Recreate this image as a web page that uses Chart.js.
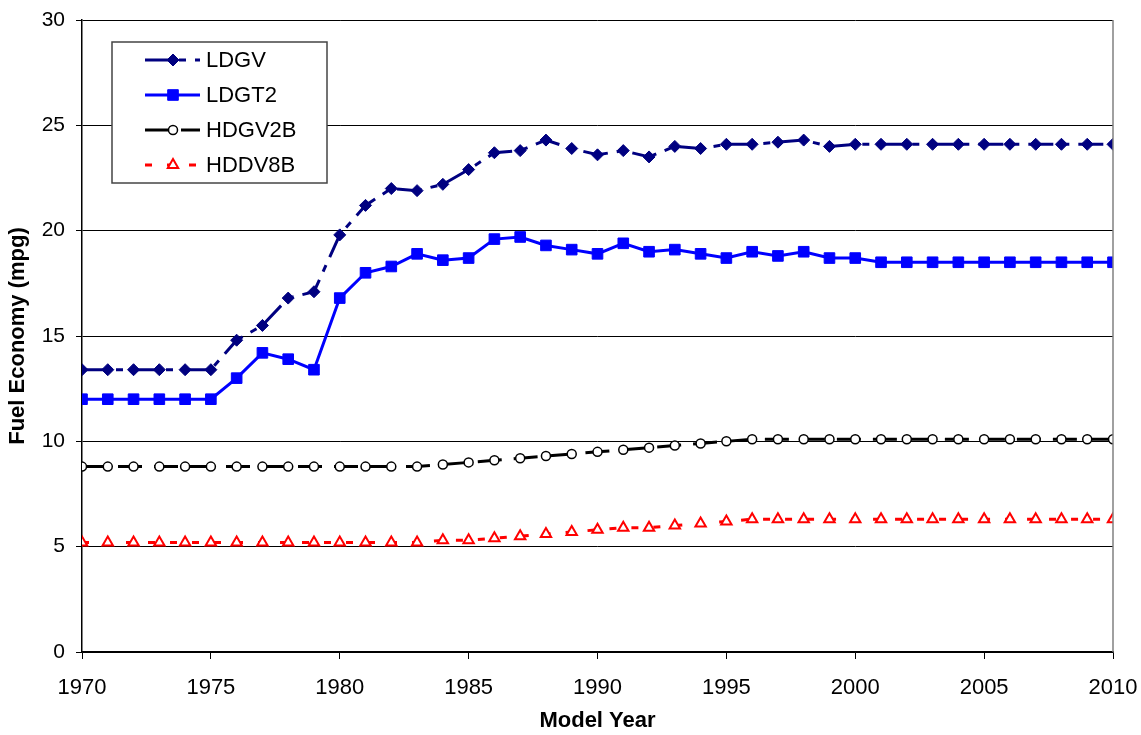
<!DOCTYPE html>
<html>
<head>
<meta charset="utf-8">
<title>Fuel Economy by Model Year</title>
<script src="https://cdn.jsdelivr.net/npm/chart.js@4.4.1/dist/chart.umd.min.js"></script>
<style>
  html, body { margin: 0; padding: 0; background: #fff; }
  #wrap { width: 1141px; height: 735px; }
</style>
</head>
<body>
<div id="wrap"><canvas id="fuelChart" width="1141" height="735"></canvas></div>
<script>
// model years on the x axis
var years = [1970,1971,1972,1973,1974,1975,1976,1977,1978,1979,
             1980,1981,1982,1983,1984,1985,1986,1987,1988,1989,
             1990,1991,1992,1993,1994,1995,1996,1997,1998,1999,
             2000,2001,2002,2003,2004,2005,2006,2007,2008,2009,2010];

// fuel economy (mpg) per vehicle class
var ldgv   = [13.4,13.4,13.4,13.4,13.4,13.4,14.8,15.5,16.8,17.1,
              19.8,21.2,22.0,21.9,22.2,22.9,23.7,23.8,24.3,23.9,
              23.6,23.8,23.5,24.0,23.9,24.1,24.1,24.2,24.3,24.0,
              24.1,24.1,24.1,24.1,24.1,24.1,24.1,24.1,24.1,24.1,24.1];
var ldgt2  = [12.0,12.0,12.0,12.0,12.0,12.0,13.0,14.2,13.9,13.4,
              16.8,18.0,18.3,18.9,18.6,18.7,19.6,19.7,19.3,19.1,
              18.9,19.4,19.0,19.1,18.9,18.7,19.0,18.8,19.0,18.7,
              18.7,18.5,18.5,18.5,18.5,18.5,18.5,18.5,18.5,18.5,18.5];
var hdgv2b = [8.8,8.8,8.8,8.8,8.8,8.8,8.8,8.8,8.8,8.8,
              8.8,8.8,8.8,8.8,8.9,9.0,9.1,9.2,9.3,9.4,
              9.5,9.6,9.7,9.8,9.9,10.0,10.1,10.1,10.1,10.1,
              10.1,10.1,10.1,10.1,10.1,10.1,10.1,10.1,10.1,10.1,10.1];
var hddv8b = [5.2,5.2,5.2,5.2,5.2,5.2,5.2,5.2,5.2,5.2,
              5.2,5.2,5.2,5.2,5.3,5.3,5.4,5.5,5.6,5.7,
              5.8,5.9,5.9,6.0,6.1,6.2,6.3,6.3,6.3,6.3,
              6.3,6.3,6.3,6.3,6.3,6.3,6.3,6.3,6.3,6.3,6.3];

var yTicks = [0,5,10,15,20,25,30];
var xTicks = [1970,1975,1980,1985,1990,1995,2000,2005,2010];

var FONT = "'Liberation Sans', Arial, sans-serif";

function toPoints(vals) {
    return years.map(function (yr, i) { return { x: yr, y: vals[i] }; });
}

// Leyenda dibujada dentro del area del grafico
var boxLegend = {
    id: 'boxLegend',
    afterDraw: function (chart) {
        var ctx = chart.ctx;
        var x0 = 112, y0 = 42, w = 215, h = 141;
        ctx.save();
        ctx.fillStyle = '#fff';
        ctx.fillRect(x0, y0, w, h);
        ctx.strokeStyle = '#444';
        ctx.lineWidth = 1.5;
        ctx.strokeRect(x0, y0, w, h);
        chart.data.datasets.forEach(function (ds, i) {
            var cy = y0 + 18 + i * 35;
            ctx.strokeStyle = ds.borderColor;
            ctx.lineWidth = ds.borderWidth;
            ctx.setLineDash(ds.borderDash || []);
            ctx.beginPath();
            ctx.moveTo(x0 + 33, cy);
            ctx.lineTo(x0 + 88, cy);
            ctx.stroke();
            ctx.setLineDash([]);
            ctx.fillStyle = ds.pointBackgroundColor;
            ctx.strokeStyle = ds.pointBorderColor;
            ctx.lineWidth = ds.pointBorderWidth;
            Chart.helpers.drawPoint(ctx, { pointStyle: ds.pointStyle, radius: ds.pointRadius, borderWidth: ds.pointBorderWidth }, x0 + 61, cy);
            ctx.fillStyle = '#000';
            ctx.font = '22px ' + FONT;
            ctx.textBaseline = 'middle';
            ctx.fillText(ds.label, x0 + 94, cy + 1);
        });
        // borde derecho del area de trazado
        var a = chart.chartArea;
        ctx.strokeStyle = '#808080';
        ctx.lineWidth = 1.5;
        ctx.beginPath();
        ctx.moveTo(a.right, a.top);
        ctx.lineTo(a.right, a.bottom);
        ctx.stroke();
        ctx.restore();
    }
};

var chartData = {
    datasets: [
        {
            label: 'LDGV', data: toPoints(ldgv),
            borderColor: '#000080', borderWidth: 3, borderDash: [25, 9, 7, 9],
            pointStyle: 'rectRot', pointRadius: 6,
            pointBackgroundColor: '#000080', pointBorderColor: '#000080', pointBorderWidth: 1
        },
        {
            label: 'LDGT2', data: toPoints(ldgt2),
            borderColor: '#0000ff', borderWidth: 3,
            pointStyle: 'rect', pointRadius: 7.5,
            pointBackgroundColor: '#0000ff', pointBorderColor: '#0000ff', pointBorderWidth: 1
        },
        {
            label: 'HDGV2B', data: toPoints(hdgv2b),
            borderColor: '#000000', borderWidth: 3, borderDash: [24, 12],
            pointStyle: 'circle', pointRadius: 4.5,
            pointBackgroundColor: '#ffffff', pointBorderColor: '#000000', pointBorderWidth: 1.5
        },
        {
            label: 'HDDV8B', data: toPoints(hddv8b),
            borderColor: '#ff0000', borderWidth: 3, borderDash: [7, 15],
            pointStyle: 'triangle', pointRadius: 6,
            pointBackgroundColor: '#ffffff', pointBorderColor: '#ff0000', pointBorderWidth: 2
        }
    ]
};

var chartOptions = {
    responsive: false,
    animation: false,
    layout: { padding: { left: 0, right: 28, top: 20, bottom: 0 } },
    elements: { line: { tension: 0 } },
    plugins: { legend: { display: false }, tooltip: { enabled: false } },
    scales: {
        x: {
            type: 'linear', min: 1970, max: 2010,
            afterBuildTicks: function (s) { s.ticks = xTicks.map(function (v) { return { value: v }; }); },
            afterFit: function (s) { s.height = 83; s.paddingLeft = 0; s.paddingRight = 0; },
            grid: { drawOnChartArea: false, drawTicks: true, tickLength: 7, color: '#000', lineWidth: 1 },
            border: { color: '#000', width: 1.5 },
            ticks: { color: '#000', font: { family: FONT, size: 22 }, padding: 16, maxRotation: 0,
                     callback: function (v) { return String(v); } },
            title: { display: true, text: 'Model Year', color: '#000',
                     font: { family: FONT, size: 22, weight: 'bold' }, padding: { top: 4, bottom: 1 } }
        },
        y: {
            min: 0, max: 30,
            afterBuildTicks: function (s) { s.ticks = yTicks.map(function (v) { return { value: v }; }); },
            afterFit: function (s) { s.width = 82; s.paddingTop = 0; s.paddingBottom = 0; },
            grid: { color: '#000', lineWidth: 1, tickLength: 6 },
            border: { color: '#000', width: 1.5 },
            ticks: { color: '#000', font: { family: FONT, size: 21 }, padding: 11 },
            title: { display: true, text: 'Fuel Economy (mpg)', color: '#000',
                     font: { family: FONT, size: 22, weight: 'bold' }, padding: { top: 5, bottom: 6 } }
        }
    }
};

var myChart = new Chart(document.getElementById('fuelChart'), {
    type: 'line',
    data: chartData,
    options: chartOptions,
    plugins: [boxLegend]
});
</script>
</body>
</html>
